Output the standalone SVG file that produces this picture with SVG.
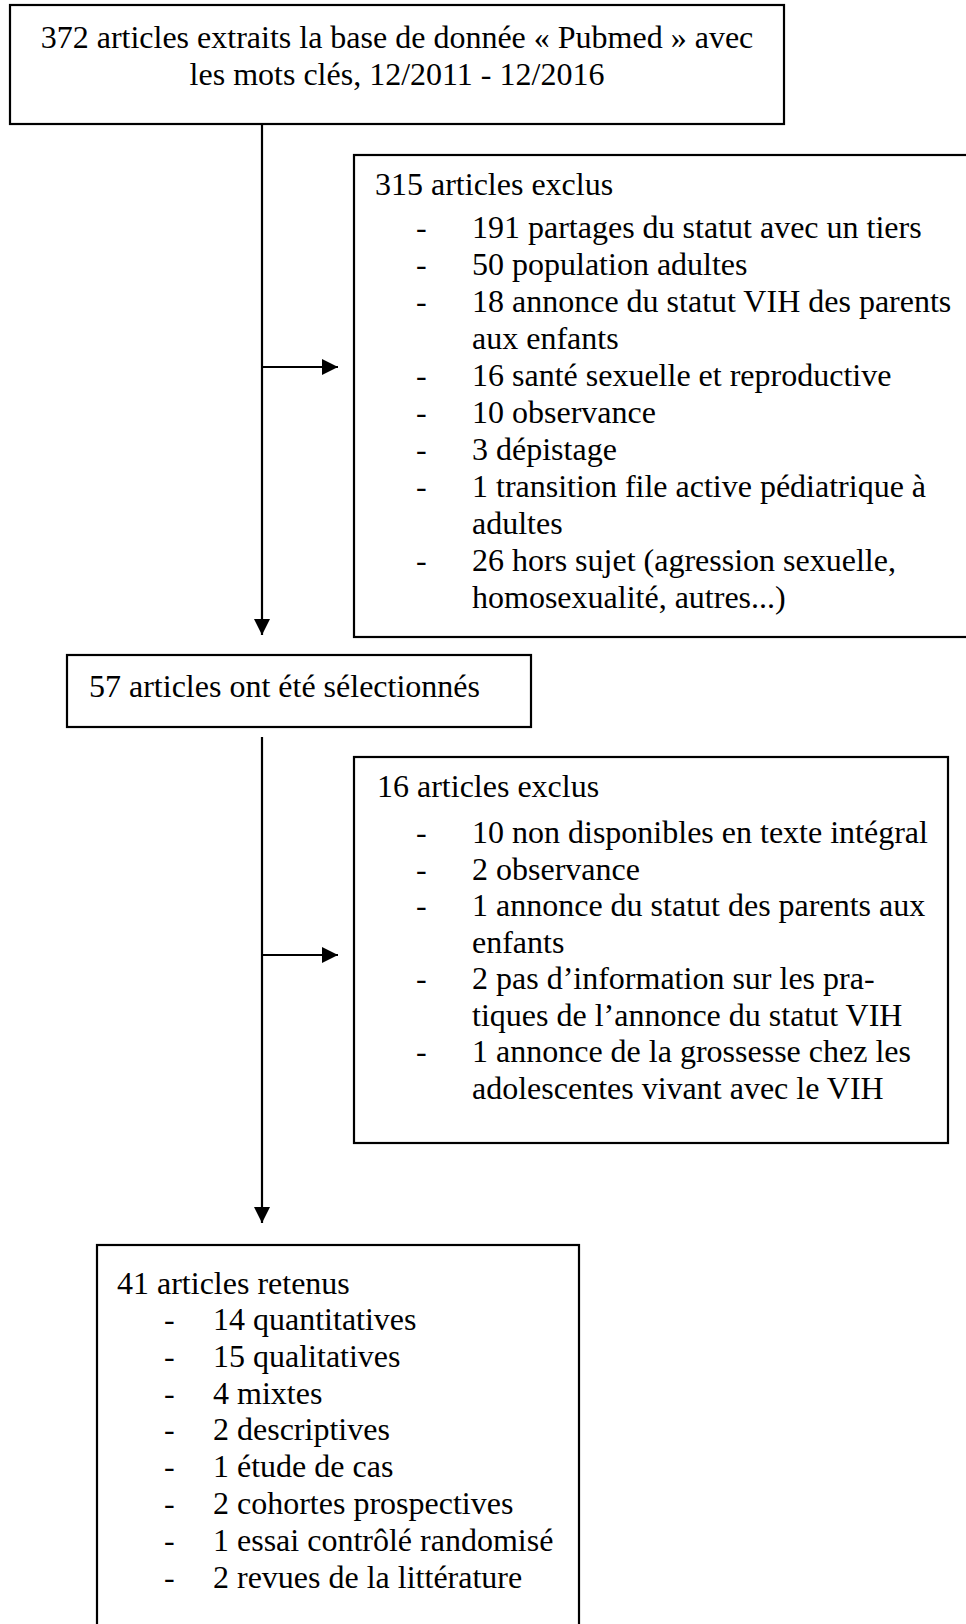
<svg xmlns="http://www.w3.org/2000/svg" width="966" height="1624" viewBox="0 0 966 1624">
<style>
.box{fill:#fff;stroke:#000;stroke-width:2.2}
.t{font-family:"Liberation Serif","Times New Roman",serif;font-size:32px;fill:#000}
.c{stroke:#000;stroke-width:2.2;fill:none}
</style>
<defs>
<marker id="ah" markerUnits="userSpaceOnUse" markerWidth="16" markerHeight="16" viewBox="0 0 16 16" refX="16" refY="8" orient="auto">
<path d="M0,0 L16,8 L0,16 Z" fill="#000"/>
</marker>
</defs>
<rect width="966" height="1624" fill="#fff"/>
<g id="connectors">
<line class="c" x1="262" y1="125" x2="262" y2="635" marker-end="url(#ah)"/>
<line class="c" x1="262" y1="367" x2="338" y2="367" marker-end="url(#ah)"/>
<line class="c" x1="262" y1="737" x2="262" y2="1223" marker-end="url(#ah)"/>
<line class="c" x1="262" y1="955" x2="338" y2="955" marker-end="url(#ah)"/>
</g>
<g id="n1">
<rect class="box" x="10" y="5" width="774" height="119"/>
<text class="t" x="397" y="48" text-anchor="middle">372 articles extraits la base de donnée « Pubmed » avec</text>
<text class="t" x="397" y="85" text-anchor="middle">les mots clés, 12/2011 - 12/2016</text>
</g>
<g id="n2">
<rect class="box" x="354" y="155" width="630" height="482"/>
<text class="t" x="375" y="195">315 articles exclus</text>
<text class="t" x="416" y="238">-</text><text class="t" x="472" y="238">191 partages du statut avec un tiers</text>
<text class="t" x="416" y="275">-</text><text class="t" x="472" y="275">50 population adultes</text>
<text class="t" x="416" y="312">-</text><text class="t" x="472" y="312">18 annonce du statut VIH des parents</text>
<text class="t" x="472" y="349">aux enfants</text>
<text class="t" x="416" y="386">-</text><text class="t" x="472" y="386">16 santé sexuelle et reproductive</text>
<text class="t" x="416" y="423">-</text><text class="t" x="472" y="423">10 observance</text>
<text class="t" x="416" y="460">-</text><text class="t" x="472" y="460">3 dépistage</text>
<text class="t" x="416" y="497">-</text><text class="t" x="472" y="497">1 transition file active pédiatrique à</text>
<text class="t" x="472" y="534">adultes</text>
<text class="t" x="416" y="571">-</text><text class="t" x="472" y="571">26 hors sujet (agression sexuelle,</text>
<text class="t" x="472" y="608">homosexualité, autres...)</text>
</g>
<g id="n3">
<rect class="box" x="67" y="655" width="464" height="72"/>
<text class="t" x="89" y="697">57 articles ont été sélectionnés</text>
</g>
<g id="n4">
<rect class="box" x="354" y="757" width="594" height="386"/>
<text class="t" x="377" y="797">16 articles exclus</text>
<text class="t" x="416" y="843">-</text><text class="t" x="472" y="843">10 non disponibles en texte intégral</text>
<text class="t" x="416" y="879.5">-</text><text class="t" x="472" y="879.5">2 observance</text>
<text class="t" x="416" y="916">-</text><text class="t" x="472" y="916">1 annonce du statut des parents aux</text>
<text class="t" x="472" y="952.5">enfants</text>
<text class="t" x="416" y="989">-</text><text class="t" x="472" y="989">2 pas d’information sur les pra-</text>
<text class="t" x="472" y="1025.5">tiques de l’annonce du statut VIH</text>
<text class="t" x="416" y="1062">-</text><text class="t" x="472" y="1062">1 annonce de la grossesse chez les</text>
<text class="t" x="472" y="1098.5">adolescentes vivant avec le VIH</text>
</g>
<g id="n5">
<rect class="box" x="97" y="1245" width="482" height="400"/>
<text class="t" x="117" y="1294">41 articles retenus</text>
<text class="t" x="164" y="1330">-</text><text class="t" x="213" y="1330">14 quantitatives</text>
<text class="t" x="164" y="1367">-</text><text class="t" x="213" y="1367">15 qualitatives</text>
<text class="t" x="164" y="1404">-</text><text class="t" x="213" y="1404">4 mixtes</text>
<text class="t" x="164" y="1440">-</text><text class="t" x="213" y="1440">2 descriptives</text>
<text class="t" x="164" y="1477">-</text><text class="t" x="213" y="1477">1 étude de cas</text>
<text class="t" x="164" y="1514">-</text><text class="t" x="213" y="1514">2 cohortes prospectives</text>
<text class="t" x="164" y="1551">-</text><text class="t" x="213" y="1551">1 essai contrôlé randomisé</text>
<text class="t" x="164" y="1588">-</text><text class="t" x="213" y="1588">2 revues de la littérature</text>
</g>
</svg>
